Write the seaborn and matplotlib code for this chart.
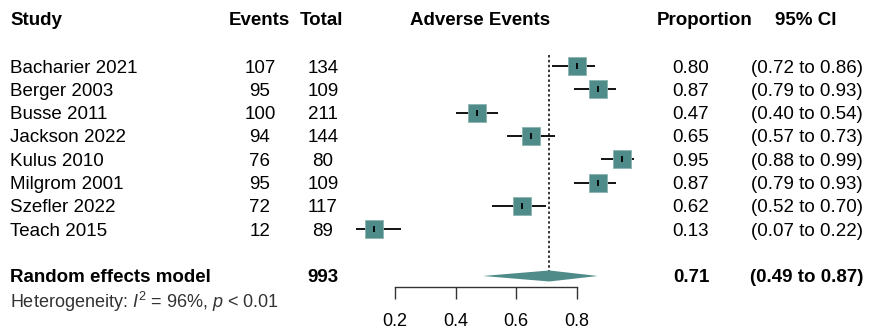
import numpy as np
import pandas as pd
import matplotlib
matplotlib.use('Agg')
import matplotlib.pyplot as plt
import matplotlib.transforms as mtrans
import seaborn as sns

# study data
studies = ['Bacharier 2021', 'Berger 2003', 'Busse 2011', 'Jackson 2022',
           'Kulus 2010', 'Milgrom 2001', 'Szefler 2022', 'Teach 2015']
events = [107, 95, 100, 94, 76, 95, 72, 12]
totals = [134, 109, 211, 144, 80, 109, 117, 89]
prop = [0.80, 0.87, 0.47, 0.65, 0.95, 0.87, 0.62, 0.13]
lower = [0.72, 0.79, 0.40, 0.57, 0.88, 0.79, 0.52, 0.07]
upper = [0.86, 0.93, 0.54, 0.73, 0.99, 0.93, 0.70, 0.22]

# random effects summary
poolTotal = 993
poolEst = 0.71
poolLow = 0.49
poolHigh = 0.87
hetText = r'Heterogeneity: $I^2$ = 96%, $p$ < 0.01'
xTicks = [0.2, 0.4, 0.6, 0.8]

sns.set_theme(style='white')
plt.rcParams['font.family'] = ['Liberation Sans', 'DejaVu Sans']
plt.rcParams['mathtext.fontset'] = 'custom'
plt.rcParams['mathtext.it'] = 'Liberation Sans:italic'
plt.rcParams['mathtext.rm'] = 'Liberation Sans'

teal = '#4F8B88'
fs = 13.5

df = pd.DataFrame({'study': studies, 'events': events, 'total': totals,
                   'prop': prop, 'lower': lower, 'upper': upper})
df['row'] = np.arange(1, len(df) + 1)
poolRow = len(df) + 2

W, H = 870, 333
fig = plt.figure(figsize=(W / 100, H / 100), dpi=100)
ax = fig.add_axes([334.4 / W, 0, 302.8 / W, 1])
ax.set_xlim(0, 1)
ax.set_ylim(12.444, -1.829)
ax.patch.set_alpha(0)

# confidence intervals, squares and estimate ticks
ax.hlines(df['row'], df['lower'], df['upper'], color='black', lw=1.3, zorder=1)
sns.scatterplot(data=df, x='prop', y='row', marker='s', s=165, color=teal,
                edgecolor='#8AB4B1', linewidth=0.6, ax=ax, zorder=2, legend=False)
ax.vlines(df['prop'], df['row'] - 0.13, df['row'] + 0.13, color='black', lw=1.3, zorder=3)

# pooled estimate line and diamond
ax.vlines(poolEst, 0.53, poolRow - 0.22, color='black', lw=1.1,
          linestyles=(0, (1.6, 1.6)), zorder=0)
ax.fill([poolLow, poolEst, poolHigh, poolEst],
        [poolRow, poolRow - 0.236, poolRow, poolRow + 0.236],
        color=teal, lw=0, zorder=2)

# x axis drawn as a floating spine
for side in ['top', 'left', 'right']:
    ax.spines[side].set_visible(False)
ax.spines['bottom'].set_position(('data', 10.47))
ax.spines['bottom'].set_bounds(0.2, 0.8)
ax.spines['bottom'].set_color('#333333')
ax.spines['bottom'].set_linewidth(1.0)
ax.set_xticks(xTicks)
ax.set_xticklabels([f'{t:.1f}' for t in xTicks])
ax.tick_params(axis='x', bottom=True, direction='out', length=8.6, width=1.0,
               color='#333333', labelsize=13, pad=10.5, labelcolor='black')
ax.set_yticks([])
ax.set_xlabel('')
ax.set_ylabel('')

trans = mtrans.blended_transform_factory(fig.transFigure, ax.transData)

def put(px, row, s, ha='center', bold=False, size=fs, color='black'):
    ax.text(px / W, row, s, transform=trans, ha=ha, va='center_baseline', fontsize=size,
            fontweight='bold' if bold else 'normal', color=color, clip_on=False)

# header
hdr = -1.04
put(10, hdr, 'Study', ha='left', bold=True)
put(259, hdr, 'Events', bold=True)
put(322, hdr, 'Total', bold=True)
put(480, hdr, 'Adverse Events', bold=True)
put(705, hdr, 'Proportion', bold=True)
put(806, hdr, '95% CI', bold=True)

# study rows
for _, r in df.iterrows():
    put(10, r['row'], r['study'], ha='left')
    put(260, r['row'], str(r['events']))
    put(323, r['row'], str(r['total']))
    put(691, r['row'], f"{r['prop']:.2f}")
    put(807, r['row'], f"({r['lower']:.2f} to {r['upper']:.2f})")

# pooled row
put(10, poolRow, 'Random effects model', ha='left', bold=True)
put(323, poolRow, str(poolTotal), bold=True)
put(691, poolRow, f'{poolEst:.2f}', bold=True)
put(807, poolRow, f'({poolLow:.2f} to {poolHigh:.2f})', bold=True)
put(10, poolRow + 1, hetText, ha='left', size=13, color='#333333')

fig.savefig('out.png', dpi=100)
